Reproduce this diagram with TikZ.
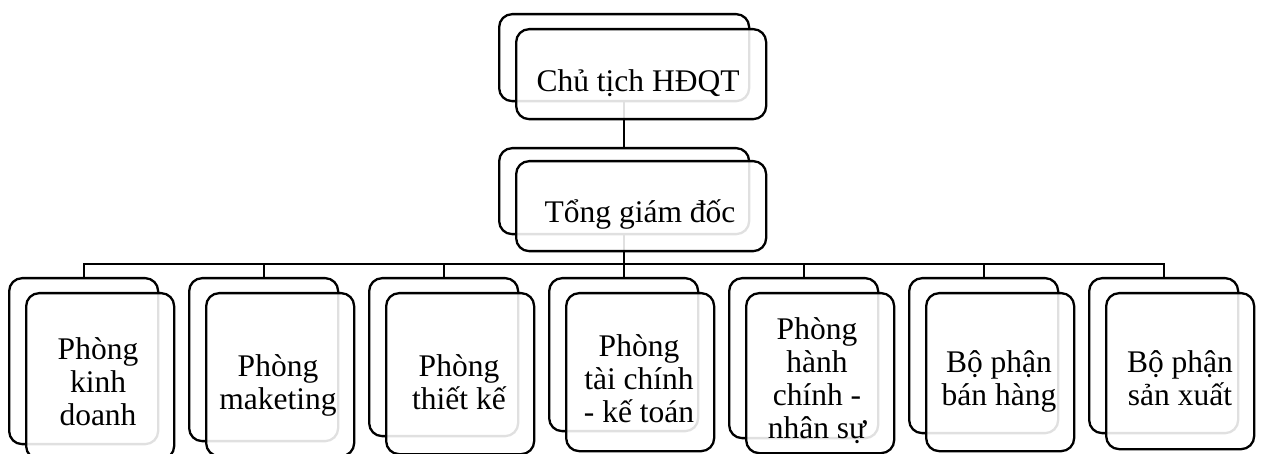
\documentclass[tikz,border=0pt]{standalone}
\usepackage{fontspec}
\setmainfont{Liberation Serif}
\pgfdeclarelayer{links}
\pgfsetlayers{links,main}
\tikzset{
  box/.style={draw=black, line width=2.3pt, rounded corners=13pt, inner sep=0pt,
    anchor=north west, fill=white},
  backbox/.style={box},
  frontbox/.style={box, fill opacity=0.88},
  link/.style={draw=black, line width=2.3pt, line join=miter},
  lbl/.style={anchor=base, inner sep=0pt, font=\fontsize{31.5}{33}\selectfont}
}
% a department: stacked pair of cards, #1 name, #2 left edge, #3 back bottom, #4 front bottom
\newcommand{\deptpair}[4]{%
  \node[backbox, minimum width=149pt, minimum height={#3-277}] (#1B) at (#2,277) {};
  \node[frontbox, minimum width=148pt, minimum height={#4-292}] (#1F) at (#2+17,292) {};
}
\newcommand{\cardtext}[1]{\begin{tabular}[t]{@{}c@{}}#1\end{tabular}}
\begin{document}
\begin{tikzpicture}[x=1pt,y=-1pt]
\useasboundingbox (0,0) rectangle (1262,454);

% top management
\node[backbox, minimum width=250pt, minimum height=87pt] (chairB) at (498,13) {};
\node[frontbox, minimum width=250pt, minimum height=90pt] (chairF) at (515,28) {};
\node[backbox, minimum width=250pt, minimum height=86pt] (ceoB) at (498,147) {};
\node[frontbox, minimum width=250pt, minimum height=90pt] (ceoF) at (515,160) {};

% departments
\deptpair{d1}{8}{443}{458}
\deptpair{d2}{188}{440}{455}
\deptpair{d3}{368}{435}{453}
\deptpair{d4}{548}{430}{450}
\deptpair{d5}{728}{437}{452}
\deptpair{d6}{908}{432}{450}
\deptpair{d7}{1088}{432}{448}

% labels
\node[lbl] (chairT) at (638,92) {Chủ tịch HĐQT};
\node[lbl] (ceoT) at (640,223) {Tổng giám đốc};
\node[lbl] (d1T) at (98,360) {\cardtext{Phòng\\kinh\\doanh}};
\node[lbl] (d2T) at (278,377) {\cardtext{Phòng\\maketing}};
\node[lbl] (d3T) at (459,377) {\cardtext{Phòng\\thiết kế}};
\node[lbl] (d4T) at (639,357) {\cardtext{Phòng\\tài chính\\- kế toán}};
\node[lbl] (d5T) at (817,340) {\cardtext{Phòng\\hành\\chính -\\nhân sự}};
\node[lbl] (d6T) at (999,373) {\cardtext{Bộ phận\\bán hàng}};
\node[lbl] (d7T) at (1180,373) {\cardtext{Bộ phận\\sản xuất}};

% connectors, kept beneath the cards
\coordinate (bus) at (0,264);
\begin{pgfonlayer}{links}
  \draw[link] (chairB.south) -- (ceoB.north);
  \draw[link] (ceoB.south) -- (ceoB.south |- bus);
  \draw[link] (d1B.north) -- (d1B.north |- bus) -- (d7B.north |- bus) -- (d7B.north);
  \foreach \d in {d2,d3,d4,d5,d6}
    \draw[link] (\d B.north) -- (\d B.north |- bus);
\end{pgfonlayer}
\end{tikzpicture}
\end{document}
